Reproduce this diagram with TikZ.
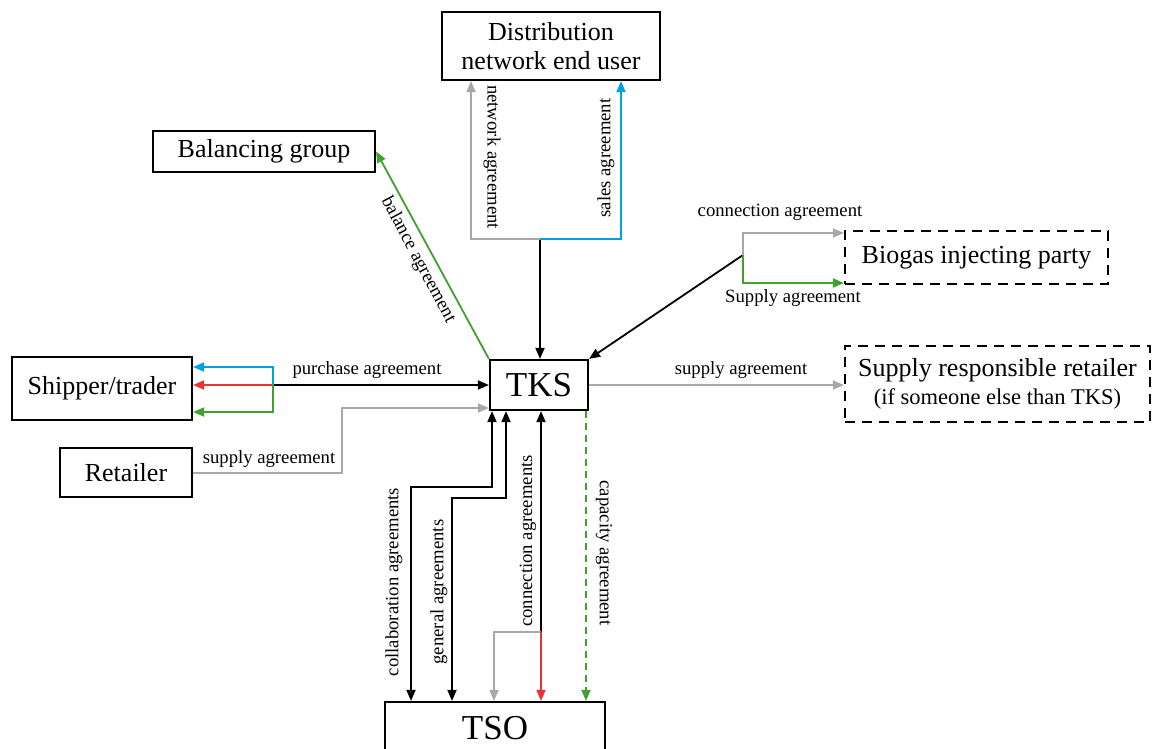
\documentclass[tikz,border=0pt]{standalone}
\usepackage{fontspec}
\setmainfont{Liberation Serif}
\usetikzlibrary{arrows.meta,calc}
\definecolor{agblue}{RGB}{0,160,227}
\definecolor{agred}{RGB}{232,52,52}
\definecolor{aggreen}{RGB}{66,160,44}
\definecolor{aggray}{RGB}{168,168,168}
\begin{document}
\begin{tikzpicture}[x=1pt,y=-1pt,
  box/.style={draw,line width=2.2pt,inner sep=0pt,align=center,font=\fontsize{26}{29.5}\selectfont},
  dbox/.style={box,dash pattern=on 10pt off 7pt},
  lbl/.style={font=\fontsize{18.7}{20}\selectfont,inner sep=0pt},
  con/.style={line width=1.8pt},
  tip/.style={-{Triangle[length=11pt,width=9pt]}},
  both/.style={{Triangle[length=11pt,width=9pt]}-{Triangle[length=11pt,width=9pt]}}]
\clip (0,0) rectangle (1154,749);

% parties
\node[box,minimum width=218pt,minimum height=68pt] (dist) at (551,46) {Distribution\\network end user};
\node[box,minimum width=222pt,minimum height=41pt] (bal) at (264,151.5) {Balancing group};
\node[box,minimum width=180pt,minimum height=63pt] (ship) at (102,388.5) {Shipper/trader};
\node[box,minimum width=132pt,minimum height=49pt] (ret) at (126,472.5) {Retailer};
\node[box,font=\fontsize{35}{40}\selectfont,minimum width=98pt,minimum height=50pt] (tks) at (539,385) {TKS};
\node[box,font=\fontsize{35}{40}\selectfont,minimum width=220pt,minimum height=52pt] (tso) at (495,728) {TSO};
\node[dbox,minimum width=263pt,minimum height=53pt] (bio) at (976.5,257.5) {Biogas injecting party};
\node[dbox,minimum width=305pt,minimum height=76pt] (srr) at (997.5,384)
  {Supply responsible retailer\\[-1pt]\fontsize{22.5}{29}\selectfont (if someone else than TKS)};

% distribution network end user
\coordinate (dj) at (540,239);
\coordinate (dg) at (471,239);
\coordinate (db) at (621,239);
\draw[con,tip] (dj) -- (dj |- tks.north);
\draw[con,aggray,tip] (dj) -- (dg) -- (dg |- dist.south);
\draw[con,agblue,tip] (dj) -- (db) -- (db |- dist.south);
\node[lbl,rotate=-90] (lnet) at (492,157) {network agreement};
\node[lbl,rotate=90] (lsal) at (606,158) {sales agreement};

% balancing group
\draw[con,aggreen,tip] (tks.north west) -- (bal.east);
\node[lbl,rotate=-62] (lbal) at (418,260) {balance agreement};

% shipper/trader
\coordinate (sj) at (273,385);
\coordinate (sb) at (273,367);
\coordinate (sg) at (273,412);
\draw[con,tip] (sj) -- (sj -| tks.west);
\draw[con,agred,tip] (sj) -- (sj -| ship.east);
\draw[con,agblue,tip] (sj) -- (sb) -- (sb -| ship.east);
\draw[con,aggreen,tip] (sj) -- (sg) -- (sg -| ship.east);
\node[lbl] (lpur) at (367,370) {purchase agreement};

% retailer
\coordinate (rk) at (342,473);
\coordinate (rt) at (342,408);
\draw[con,aggray,tip] (ret.east |- rk) -- (rk) -- (rt) -- (rt -| tks.west);
\node[lbl] (lret) at (269,459) {supply agreement};

% TSO
\coordinate (c1) at (492,487);
\coordinate (c1b) at (411,487);
\draw[con,both] (c1 |- tks.south) -- (c1) -- (c1b) -- (c1b |- tso.north);
\coordinate (g1) at (506,498);
\coordinate (g1b) at (452,498);
\draw[con,both] (g1 |- tks.south) -- (g1) -- (g1b) -- (g1b |- tso.north);
\coordinate (k1) at (541,632);
\coordinate (k1g) at (494,632);
\draw[con,tip] (k1) -- (k1 |- tks.south);
\draw[con,aggray,tip] (k1) -- (k1g) -- (k1g |- tso.north);
\draw[con,agred,tip] (k1) -- (k1 |- tso.north);
\coordinate (cp) at (586,560);
\draw[con,aggreen,dash pattern=on 7pt off 5pt,tip] (cp |- tks.south) -- (cp |- tso.north);
\node[lbl,rotate=90] (lcol) at (394,582) {collaboration agreements};
\node[lbl,rotate=90] (lgen) at (439,592) {general agreements};
\node[lbl,rotate=90] (lcon) at (528,541) {connection agreements};
\node[lbl,rotate=-90] (lcap) at (604,553) {capacity agreement};

% biogas injecting party
\coordinate (bj) at (743,255);
\coordinate (bgr) at (743,233);
\coordinate (bgn) at (743,283);
\draw[con,tip] (bj) -- (tks.north east);
\draw[con,aggray,tip] (bj) -- (bgr) -- (bgr -| bio.west);
\draw[con,aggreen,tip] (bj) -- (bgn) -- (bgn -| bio.west);
\node[lbl] (lbc) at (780,212) {connection agreement};
\node[lbl] (lbs) at (793,298) {Supply agreement};

% supply responsible retailer
\draw[con,aggray,tip] (tks.east) -- (tks.east -| srr.west);
\node[lbl] (lsrr) at (741,370) {supply agreement};
\end{tikzpicture}
\end{document}
